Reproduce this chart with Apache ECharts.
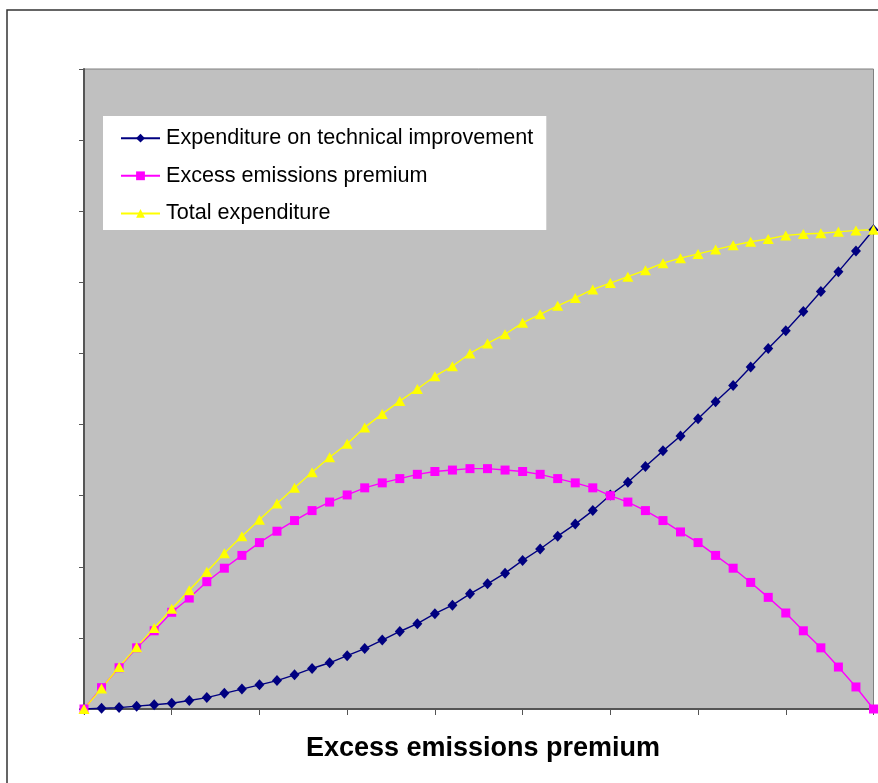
<!DOCTYPE html>
<html>
<head>
<meta charset="utf-8">
<script src="https://cdn.jsdelivr.net/npm/echarts@6/dist/echarts.min.js"></script>
<style>
  html, body { margin: 0; padding: 0; background: #fff; }
  #chart { width: 878px; height: 783px; }
</style>
</head>
<body>
<div id="chart"></div>
<script>
var categories = [0, 1, 2, 3, 4, 5, 6, 7, 8, 9, 10, 11, 12, 13, 14, 15, 16, 17, 18, 19, 20, 21, 22,
    23, 24, 25, 26, 27, 28, 29, 30, 31, 32, 33, 34, 35, 36, 37, 38, 39, 40, 41, 42, 43, 44, 45];

var technical = [0, 0.01, 0.02, 0.04, 0.06, 0.08, 0.12, 0.16, 0.22, 0.28, 0.34, 0.40, 0.48, 0.57, 0.65,
    0.75, 0.85, 0.97, 1.09, 1.20, 1.34, 1.46, 1.62, 1.76, 1.91, 2.09, 2.25, 2.43, 2.60, 2.79,
    3.01, 3.19, 3.41, 3.63, 3.84, 4.08, 4.32, 4.55, 4.81, 5.07, 5.32, 5.59, 5.87, 6.15, 6.44, 6.74];

var premium = [0, 0.30, 0.58, 0.86, 1.10, 1.36, 1.56, 1.79, 1.98, 2.16, 2.34, 2.50, 2.65, 2.79, 2.91,
    3.01, 3.11, 3.18, 3.24, 3.30, 3.34, 3.36, 3.38, 3.38, 3.36, 3.34, 3.30, 3.24, 3.18, 3.11,
    3.00, 2.91, 2.79, 2.65, 2.49, 2.34, 2.16, 1.98, 1.78, 1.57, 1.35, 1.10, 0.86, 0.59, 0.31, 0];

var total = [0, 0.29, 0.59, 0.87, 1.14, 1.41, 1.67, 1.93, 2.19, 2.43, 2.66, 2.89, 3.11, 3.33, 3.54,
    3.73, 3.96, 4.15, 4.33, 4.50, 4.68, 4.82, 5.00, 5.14, 5.27, 5.43, 5.55, 5.67, 5.78, 5.90,
    5.99, 6.08, 6.17, 6.27, 6.34, 6.40, 6.46, 6.52, 6.57, 6.61, 6.66, 6.68, 6.69, 6.71, 6.73, 6.74];

var seriesNames = ['Expenditure on technical improvement', 'Excess emissions premium', 'Total expenditure'];
var xTitle = 'Excess emissions premium';

var font = "'Liberation Sans', Arial, sans-serif";

var myChart = echarts.init(document.getElementById('chart'));

function lineSeries(name, data, color, symbol, size) {
    return {
        name: name,
        type: 'line',
        data: data,
        symbol: symbol,
        symbolSize: size,
        showAllSymbol: true,
        lineStyle: {color: color, width: 1.4},
        itemStyle: {color: color},
        emphasis: {disabled: true}
    };
}

var option = {
    animation: false,
    backgroundColor: '#ffffff',
    textStyle: {fontFamily: font},
    grid: {
        left: 84, top: 69, right: 4.5, bottom: 74,
        show: true,
        backgroundColor: '#C0C0C0',
        borderColor: '#808080',
        borderWidth: 1
    },
    legend: {
        left: 103, top: 116,
        orient: 'vertical',
        backgroundColor: '#ffffff',
        padding: [11.2, 13, 5.5, 17],
        itemWidth: 39,
        itemHeight: 11,
        itemGap: 15.6,
        textStyle: {fontFamily: font, fontSize: 21.6, color: '#000', lineHeight: 21, padding: [0, 0, 0, 1]},
        data: seriesNames
    },
    xAxis: {
        type: 'category',
        data: categories,
        boundaryGap: false,
        axisLine: {lineStyle: {color: '#555', width: 2}},
        axisTick: {interval: 4, length: 6, lineStyle: {color: '#555', width: 1}},
        axisLabel: {show: false},
        splitLine: {show: false}
    },
    yAxis: {
        type: 'value',
        min: 0, max: 9, interval: 1,
        axisLine: {show: true, lineStyle: {color: '#555', width: 2}},
        axisTick: {show: true, length: 5, lineStyle: {color: '#555', width: 1}},
        axisLabel: {show: false},
        splitLine: {show: false}
    },
    graphic: [
        {
            type: 'rect',
            shape: {x: 7, y: 10, width: 1000, height: 1000},
            style: {fill: 'none', stroke: '#333', lineWidth: 1.5},
            silent: true
        },
        {
            type: 'text',
            x: 483, y: 749,
            style: {
                text: xTitle,
                font: 'bold 27px ' + font,
                fill: '#000',
                textAlign: 'center',
                textVerticalAlign: 'middle'
            }
        }
    ],
    series: [
        lineSeries(seriesNames[0], technical, '#000080', 'diamond', [10, 11]),
        lineSeries(seriesNames[1], premium, '#FF00FF', 'rect', 9),
        lineSeries(seriesNames[2], total, '#FFFF00', 'triangle', [11, 10])
    ]
};

myChart.setOption(option);
window.onresize = myChart.resize;
</script>
</body>
</html>
